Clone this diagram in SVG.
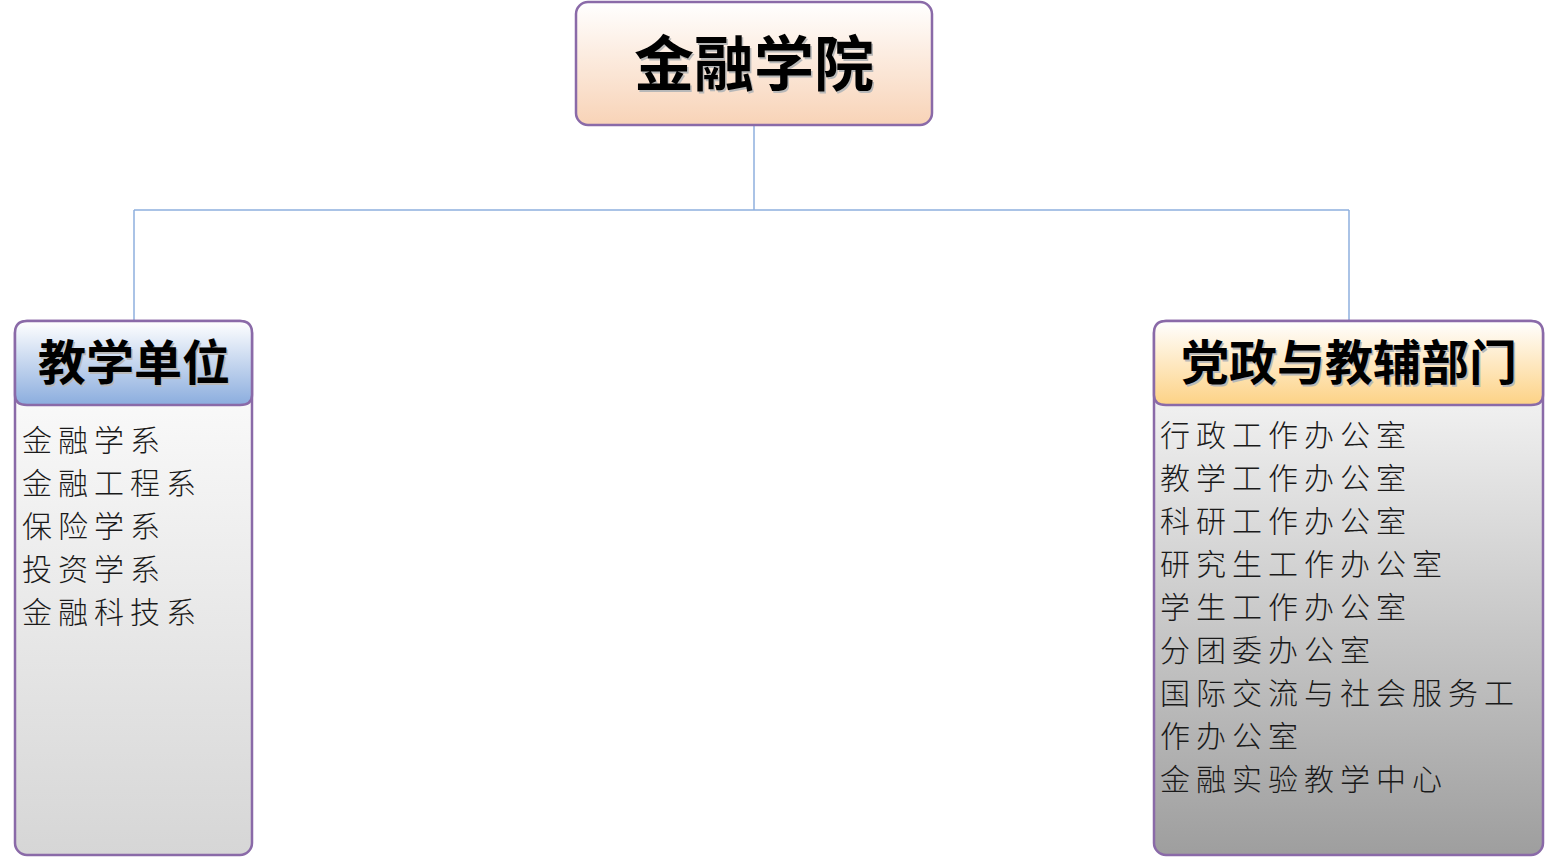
<svg xmlns="http://www.w3.org/2000/svg" width="1546" height="857" viewBox="0 0 1546 857">
<defs>
<linearGradient id="gTop" x1="0" y1="0" x2="0" y2="1">
<stop offset="0" stop-color="#ffffff"/>
<stop offset="1" stop-color="#f8d3b7"/>
</linearGradient>
<linearGradient id="gBlue" x1="0" y1="0" x2="0" y2="1">
<stop offset="0" stop-color="#ffffff"/>
<stop offset="1" stop-color="#8badde"/>
</linearGradient>
<linearGradient id="gGold" x1="0" y1="0" x2="0" y2="1">
<stop offset="0" stop-color="#ffffff"/>
<stop offset="1" stop-color="#fdd285"/>
</linearGradient>
<linearGradient id="gBodyL" x1="0" y1="0" x2="0" y2="1">
<stop offset="0" stop-color="#ffffff"/>
<stop offset="1" stop-color="#d6d6d6"/>
</linearGradient>
<linearGradient id="gBodyR" x1="0" y1="0" x2="0" y2="1">
<stop offset="0" stop-color="#ffffff"/>
<stop offset="1" stop-color="#9e9e9e"/>
</linearGradient>
</defs>
<style>
.box{stroke:#8a6aa8;stroke-width:2.5}
.head{font-family:"Noto Sans CJK SC","Noto Sans CJK JP",sans-serif;font-weight:bold;text-anchor:middle;fill:#000}
.shadow{fill:#b8b8b8}
.item{font-family:"Noto Sans CJK SC","Noto Sans CJK JP",sans-serif;font-size:30px;font-weight:300;letter-spacing:6px;fill:#1a1a1a}
.conn{stroke:#8fb0de;stroke-width:1.5;fill:none}
</style>
<g id="connectors">
<path class="conn" d="M754 125 V210 M134 210 H1349 M134 210 V321 M1349 210 V321"/>
</g>
<g id="root">
<rect class="box" x="576" y="2" width="356" height="123" rx="12" fill="url(#gTop)"/>
<text class="head shadow" x="755.5" y="87.5" font-size="60">金融学院</text>
<text class="head" x="754" y="86" font-size="60">金融学院</text>
</g>
<g id="teaching">
<rect class="box" x="15" y="321" width="237" height="534" rx="12" fill="url(#gBodyL)"/>
<path d="M15 395 V333 Q15 321 27 321 H240 Q252 321 252 333 V395 Q252 405 240 405 H27 Q15 405 15 395Z" fill="url(#gBlue)" stroke="#8a6aa8" stroke-width="2.5"/>
<text class="head shadow" x="135.5" y="381.5" font-size="48">教学单位</text>
<text class="head" x="134" y="380" font-size="48">教学单位</text>
<text class="item" x="22" y="451">金融学系</text>
<text class="item" x="22" y="494">金融工程系</text>
<text class="item" x="22" y="537">保险学系</text>
<text class="item" x="22" y="580">投资学系</text>
<text class="item" x="22" y="623">金融科技系</text>
</g>
<g id="admin">
<rect class="box" x="1154" y="321" width="389" height="534" rx="12" fill="url(#gBodyR)"/>
<path d="M1154 395 V333 Q1154 321 1166 321 H1531 Q1543 321 1543 333 V395 Q1543 405 1531 405 H1166 Q1154 405 1154 395Z" fill="url(#gGold)" stroke="#8a6aa8" stroke-width="2.5"/>
<text class="head shadow" x="1350.5" y="381.5" font-size="48">党政与教辅部门</text>
<text class="head" x="1349" y="380" font-size="48">党政与教辅部门</text>
<text class="item" x="1160" y="446">行政工作办公室</text>
<text class="item" x="1160" y="489">教学工作办公室</text>
<text class="item" x="1160" y="532">科研工作办公室</text>
<text class="item" x="1160" y="575">研究生工作办公室</text>
<text class="item" x="1160" y="618">学生工作办公室</text>
<text class="item" x="1160" y="661">分团委办公室</text>
<text class="item" x="1160" y="704">国际交流与社会服务工</text>
<text class="item" x="1160" y="747">作办公室</text>
<text class="item" x="1160" y="790">金融实验教学中心</text>
</g>
</svg>
